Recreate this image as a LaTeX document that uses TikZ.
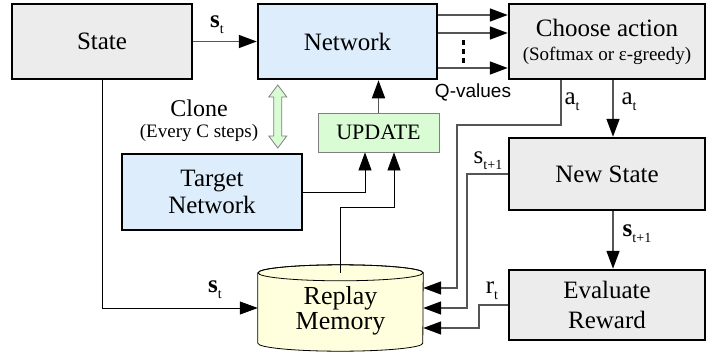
\documentclass[tikz,border=0pt]{standalone}
\usepackage{fontspec}
\setmainfont{Liberation Serif}
\setsansfont{Liberation Sans}
\usepackage{tikz}
\usetikzlibrary{arrows.meta,calc,backgrounds}

\definecolor{boxgray}{HTML}{ECECEC}
\definecolor{boxblue}{HTML}{DEEDFC}
\definecolor{boxgreen}{HTML}{D9FCD4}
\definecolor{memyellow}{HTML}{FFFFDD}
\definecolor{linegray}{HTML}{555555}

\newcommand{\fsz}[1]{\fontsize{#1}{#1}\selectfont}
\newcommand{\idx}[1]{\raisebox{-6pt}{\fsz{14}#1}}

\begin{document}
\begin{tikzpicture}[
  x=1pt, y=-1pt,
  block/.style={rectangle, draw, line width=2.5pt, minimum height=75pt, align=center, inner sep=0pt, font=\fsz{25}},
  graybox/.style={block, fill=boxgray},
  bluebox/.style={block, fill=boxblue},
  flow/.style={draw=linegray, line width=1.6pt, -{Triangle[length=18pt,width=13pt,color=black]}},
  thinflow/.style={draw=black, line width=0.8pt, -{Triangle[length=18pt,width=13pt]}},
  lbl/.style={inner sep=0pt, font=\fsz{25}}
]
\useasboundingbox (0,0) rectangle (707,351);

% boxes
\node[graybox, minimum width=180pt] (state) at (102,41.5) {State};
\node[bluebox, minimum width=179pt] (network) at (347.5,41.5) {Network};
\node[graybox, minimum width=196pt] (choose) at (607,41.5) {Choose action\\[-1pt]{\fsz{19}(Softmax or ε-greedy)}};
\node[graybox, minimum width=196pt, minimum height=72pt] (newstate) at (607,174) {New State};
\node[graybox, minimum width=196pt, minimum height=70pt, font=\fontsize{25}{30}\selectfont] (evaluate) at (607,305) {Evaluate\\Reward};
\node[bluebox, minimum width=180pt, minimum height=76pt, font=\fontsize{25}{27}\selectfont] (target) at (212,192) {Target\\Network};
\node[rectangle, draw=gray, line width=0.8pt, fill=boxgreen, minimum width=121pt, minimum height=39pt, font=\fsz{22}] (update) at (378.5,132.5) {UPDATE};

% replay memory cylinder
\node[minimum width=165pt, minimum height=70pt, inner sep=0pt, align=center, font=\fontsize{26}{25}\selectfont, text depth=-12pt] (mem) at (340.5,308) {Replay\\Memory};
\begin{scope}[on background layer]
\draw[fill=memyellow, line width=0.8pt] (mem.north west) -- (mem.south west)
  arc[start angle=180, end angle=360, x radius=82.5pt, y radius=8pt] -- (mem.north east)
  arc[start angle=0, end angle=180, x radius=82.5pt, y radius=8pt];
\draw[line width=0.8pt] (mem.north) ellipse[x radius=82.5pt, y radius=8pt];
\end{scope}

% clone
\coordinate (clone) at ($(network.south)!0.5!(target.north)+(-2,0)$);
\draw[draw=gray, fill=boxgreen, line width=0.8pt] ($(clone)+(0,-31.5)$) -- ++(9,12) -- ++(-5,0) -- ++(0,39) -- ++(5,0)
  -- ++(-9,12) -- ++(-9,-12) -- ++(5,0) -- ++(0,-39) -- ++(-5,0) -- cycle;
\node[lbl, font=\fsz{24}] (clonetxt) at (199,108) {Clone};
\node[lbl, font=\fsz{19}] (every) at (199,133) {(Every C steps)};

% connectors
\draw[flow] (state) -- (network);
\node[lbl] (st) at (217,25) {\textbf{s}\idx{t}};

\draw[flow] ([yshift=26.5pt]network.east) -- ([yshift=26.5pt]choose.west);
\draw[flow] ([yshift=8.5pt]network.east) -- ([yshift=8.5pt]choose.west);
\draw[flow] ([yshift=-26.5pt]network.east) -- ([yshift=-26.5pt]choose.west);
\coordinate (dots) at (463,51);
\foreach \dy in {-9,0,9}
  \fill ($(dots)+(-1.5,\dy-2.5)$) rectangle ++(3,5);
\node[lbl, font=\sffamily\fsz{19}] (qval) at (473,92) {Q-values};

\draw[flow] ([xshift=6pt]choose.south) -- ([xshift=6pt]newstate.north);
\node[lbl] (at2) at (629,102) {a\idx{t}};
\draw[flow] ([xshift=-46pt]choose.south) -- ++(0,45) -- ++(-104,0) |- ([yshift=20pt]mem.east);
\node[lbl] (at1) at (572,102) {a\idx{t}};

\draw[flow] (newstate.west) -- ++(-41,0) |- (mem.east);
\node[lbl] (st1) at (488,161) {s\idx{t+1}};
\draw[flow] ([xshift=6pt]newstate.south) -- ([xshift=6pt]evaluate.north);
\node[lbl] (st1b) at (637,234) {\textbf{s}\idx{t+1}};

\draw[flow] (evaluate.west) -- ++(-29,0) |- ([yshift=-20pt]mem.east);
\node[lbl] (rt) at (492,291) {r\idx{t}};

\draw[thinflow] (state.south) |- (mem.west);
\node[lbl] (st2) at (215,290) {\textbf{s}\idx{t}};

\draw[thinflow] (target.east) -| ([xshift=-13.5pt]update.south);
\draw[thinflow] (mem.north) -- ++(0,-65) -| ([xshift=15.5pt]update.south);
\draw[flow] (update.north) -- (update.north |- network.south);
\end{tikzpicture}
\end{document}
